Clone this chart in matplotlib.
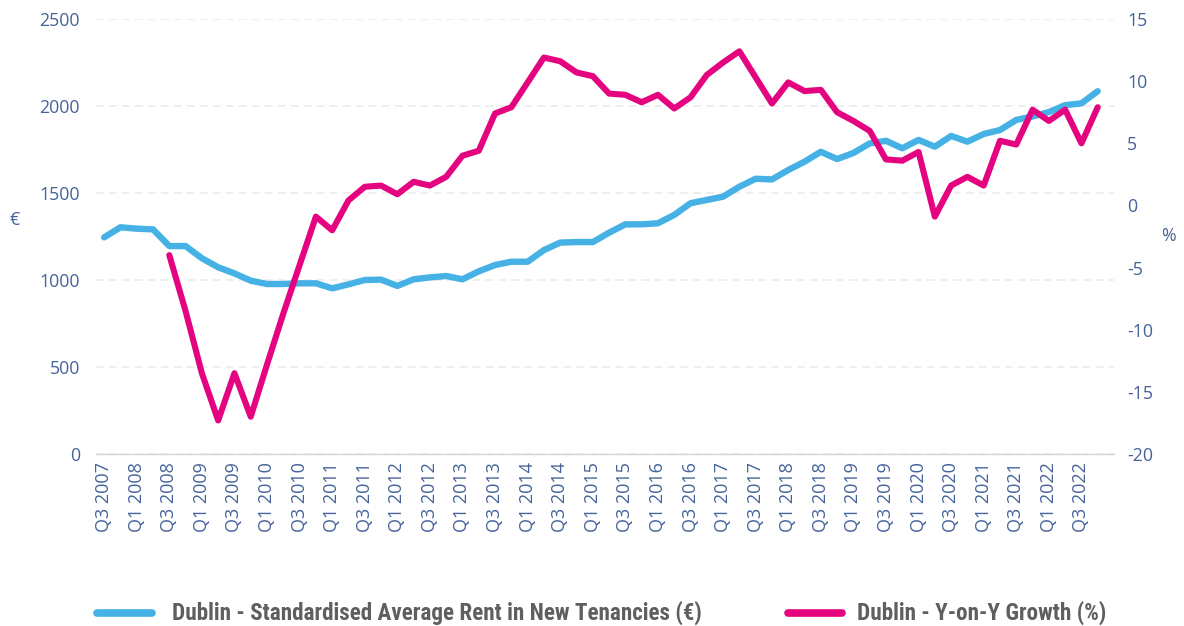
import matplotlib
matplotlib.use('Agg')
import matplotlib.pyplot as plt
from matplotlib import font_manager as fm
from matplotlib.lines import Line2D

# ---------------- data ----------------
quarters = ([f"Q{q} 2007" for q in (3, 4)] +
            [f"Q{q} {y}" for y in range(2008, 2023) for q in (1, 2, 3, 4)])

rent = [1245, 1303, 1295, 1291, 1195, 1195, 1125, 1073, 1038, 996,
        977, 977, 981, 981, 952, 975, 1000, 1002, 966, 1004,
        1015, 1023, 1004, 1050, 1086, 1105, 1105, 1172, 1215, 1218,
        1218, 1272, 1320, 1320, 1326, 1374, 1441, 1460, 1479, 1536,
        1582, 1578, 1632, 1680, 1737, 1695, 1730, 1785, 1800, 1757,
        1805, 1766, 1828, 1795, 1839, 1862, 1920, 1940, 1965, 2005,
        2015, 2085]

growth = [None, None, None, None, -4.0, -8.5, -13.5, -17.3, -13.5, -17.0,
          -12.8, -8.7, -4.8, -0.9, -2.0, 0.4, 1.5, 1.6, 0.9, 1.9,
          1.6, 2.3, 4.0, 4.4, 7.4, 7.9, 9.9, 11.9, 11.6, 10.7,
          10.4, 9.0, 8.9, 8.3, 8.9, 7.8, 8.7, 10.5, 11.5, 12.4,
          10.3, 8.2, 9.9, 9.2, 9.3, 7.5, 6.8, 6.0, 3.7, 3.6,
          4.3, -0.9, 1.6, 2.3, 1.6, 5.2, 4.9, 7.7, 6.8, 7.7,
          5.0, 7.9]

left_ticks = [0, 500, 1000, 1500, 2000, 2500]
right_ticks = [-20, -15, -10, -5, 0, 5, 10, 15]

label_rent = "Dublin - Standardised Average Rent in New Tenancies (€)"
label_growth = "Dublin - Y-on-Y Growth (%)"

# ---------------- style ----------------
BLUE = "#46B1E4"
PINK = "#E5047F"
TXT = "#45629B"
LEG = "#5F5F5F"


def pick(cands):
    for c in cands:
        try:
            fm.findfont(fm.FontProperties(family=c), fallback_to_default=False)
            return c
        except Exception:
            pass
    return "DejaVu Sans"


TICKFONT = pick(["Open Sans", "Noto Sans", "DejaVu Sans"])
LEGFONT = pick(["Liberation Sans Narrow", "Roboto Condensed", "Open Sans", "DejaVu Sans"])

plt.rcParams['font.family'] = [TICKFONT, 'DejaVu Sans']
plt.rcParams['axes.unicode_minus'] = False

W, H = 1184, 626
fig = plt.figure(figsize=(W / 100, H / 100), dpi=100)
fig.patch.set_facecolor("white")

x0, x1 = 96, 1114
ytop, ybot = 19, 454
ax = fig.add_axes([x0 / W, 1 - ybot / H, (x1 - x0) / W, (ybot - ytop) / H])
ax2 = ax.twinx()

xs = list(range(len(quarters)))
ax.plot(xs, rent, color=BLUE, lw=4.6, solid_joinstyle='round',
        solid_capstyle='round', zorder=3)
gx = [i for i, v in zip(xs, growth) if v is not None]
gy = [v for v in growth if v is not None]
ax2.plot(gx, gy, color=PINK, lw=4.4, solid_joinstyle='round',
         solid_capstyle='round', zorder=3)

ax.set_xlim(-0.5, 62.0)
ax.set_ylim(0, 2500)
ax2.set_ylim(-20, 15)

ax.set_yticks(left_ticks)
ax2.set_yticks(right_ticks)
ax.set_xticks(xs[::2])
ax.set_xticklabels(quarters[::2], rotation=90, fontsize=13, color=TXT)

ax.yaxis.grid(True, color="#EAEAEA", lw=1.1, linestyle=(0, (5, 3.5)))
ax.set_axisbelow(True)

for a in (ax, ax2):
    for s in a.spines.values():
        s.set_visible(False)
ax.spines['bottom'].set_visible(True)
ax.spines['bottom'].set_color("#D6D6D6")
ax.spines['bottom'].set_linewidth(1.0)

ax.tick_params(axis='y', length=0, pad=11.5, labelsize=12.8, labelcolor=TXT)
ax.tick_params(axis='x', length=0, pad=6, labelcolor=TXT)
ax2.tick_params(axis='y', length=0, pad=9.5, labelsize=12.8, labelcolor=TXT)

fig.text(15 / W, 1 - 220 / H, "€", fontsize=12.8, color=TXT,
         ha='center', va='center')
fig.text(1168 / W, 1 - 236 / H, "%", fontsize=12.8, color=TXT,
         ha='center', va='center')

# ---------------- legend ----------------
ly = 1 - 613 / H
fig.add_artist(Line2D([97 / W, 152 / W], [ly, ly], color=BLUE, lw=5.5,
                      solid_capstyle='round'))
fig.add_artist(Line2D([788 / W, 842 / W], [ly, ly], color=PINK, lw=5.5,
                      solid_capstyle='round'))

t1 = fig.text(172 / W, ly, label_rent, fontsize=14, color=LEG,
              fontweight='bold', family=[LEGFONT, 'DejaVu Sans'],
              ha='left', va='center')
t2 = fig.text(857 / W, ly, label_growth, fontsize=14, color=LEG,
              fontweight='bold', family=[LEGFONT, 'DejaVu Sans'],
              ha='left', va='center')
fig.canvas.draw()
r = fig.canvas.get_renderer()
w1 = t1.get_window_extent(r).width
scale = 528.0 / w1
fs = max(9.0, min(17.0, 14 * scale * 1.012))
t1.set_fontsize(fs)
t2.set_fontsize(fs)

fig.savefig("out.png", dpi=100, facecolor="white")
